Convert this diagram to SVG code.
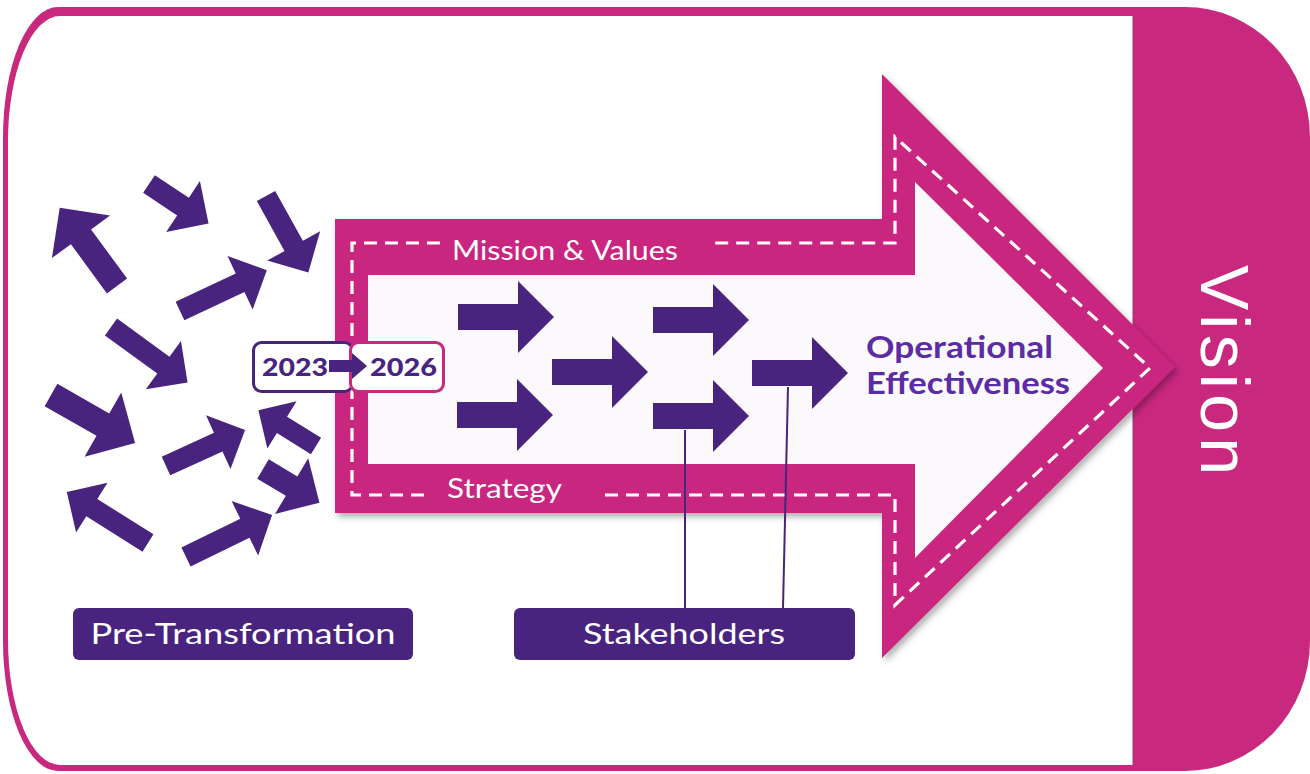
<svg xmlns="http://www.w3.org/2000/svg" width="1310" height="774" viewBox="0 0 1310 774">
  <defs>
    <style>
      .pink { fill: #c9287f; }
      .purple { fill: #48247f; }
      .dash { fill: none; stroke: #ffffff; stroke-width: 3.2; stroke-dasharray: 13 8; }
      .band-label { font-family: "Lato", "Open Sans", sans-serif; font-size: 26px; fill: #ffffff; }
      .box-label { font-family: "Lato", "Open Sans", sans-serif; font-size: 28px; fill: #ffffff; text-anchor: middle; }
      .year { font-family: "Lato", "Liberation Sans", sans-serif; font-size: 25px; font-weight: 900; fill: #48247f; }
      .goal { font-family: "Lato", "Open Sans", sans-serif; font-size: 30px; font-weight: 700; fill: #5b2ca3; }
      .link { stroke: #48247f; stroke-width: 2; fill: none; }
    </style>
    <filter id="shadow" x="-10%" y="-10%" width="125%" height="125%">
      <feDropShadow dx="3" dy="4" stdDeviation="3" flood-color="#000000" flood-opacity="0.3"/>
    </filter>
    <path id="step" d="M0,-13 H60 V-36 L96,0 L60,36 V13 H0 Z"/>
  </defs>

  <!-- outer frame with the Vision band on the right -->
  <g id="frame">
    <path class="pink" d="M58,7 H1185 A125,130 0 0 1 1310,137 V641 A125,130 0 0 1 1185,771 H58 A55,130 0 0 1 3,641 V137 A55,130 0 0 1 58,7 Z"/>
    <path fill="#ffffff" d="M60,16 H1133 V765 H60 A52,125 0 0 1 8,640 V141 A52,125 0 0 1 60,16 Z"/>
    <line x1="1132.5" y1="16" x2="1132.5" y2="765" stroke="#8a6b7c" stroke-width="1" opacity="0.6"/>
  </g>

  <g id="vision">
    <text transform="translate(1201,370) rotate(90)" text-anchor="middle" font-family="Liberation Sans, Arial, sans-serif" font-size="68" fill="#ffffff" textLength="210" lengthAdjust="spacing">Vision</text>
  </g>

  <!-- big transformation arrow -->
  <g id="transformation-arrow">
    <path class="pink" filter="url(#shadow)" d="M335,219 H882 V74 L1175,367 L882,658 V513 H335 Z"/>
    <path fill="#fcf9fd" d="M368,275 H915 V182 L1103,368 L915,558 V464 H368 Z"/>
    <path class="dash" d="M440,243 H352 V495 H425"/>
    <path class="dash" d="M605,495 H895 V605 L1150,368 L895,137 V243 H708"/>
    <text class="band-label" x="452" y="260" textLength="226" lengthAdjust="spacingAndGlyphs">Mission &amp; Values</text>
    <text class="band-label" x="447" y="498" textLength="115" lengthAdjust="spacingAndGlyphs">Strategy</text>
  </g>

  <g id="operational-effectiveness">
    <text class="goal" x="866" y="358" textLength="187" lengthAdjust="spacingAndGlyphs">Operational</text>
    <text class="goal" x="866" y="394" textLength="204" lengthAdjust="spacingAndGlyphs">Effectiveness</text>
  </g>

  <!-- scattered arrows before the transformation -->
  <g id="pre-arrows" class="purple">
    <path transform="translate(117,286) rotate(-126.2)" d="M0,-12.5 H61 V-36 L97,0 L61,36 V12.5 H0 Z"/>
    <path transform="translate(149,184) rotate(33.5) scale(0.85)" d="M0,-12.5 H48 V-36 L84,0 L48,36 V12.5 H0 Z"/>
    <path transform="translate(266,196) rotate(61) scale(0.84)" d="M0,-12.5 H68 V-36 L104,0 L68,36 V12.5 H0 Z"/>
    <path transform="translate(180,311) rotate(-25.2) scale(0.82)" d="M0,-12.5 H81 V-36 L117,0 L81,36 V12.5 H0 Z"/>
    <path transform="translate(111,327) rotate(36) scale(0.83)" d="M0,-12.5 H78 V-36 L114,0 L78,36 V12.5 H0 Z"/>
    <path transform="translate(51,395) rotate(29.7) scale(1.03)" d="M0,-12.5 H58 V-36 L94,0 L58,36 V12.5 H0 Z"/>
    <path transform="translate(166,466) rotate(-24.5) scale(0.82)" d="M0,-12.5 H70 V-36 L106,0 L70,36 V12.5 H0 Z"/>
    <path transform="translate(316,446) rotate(-148.2) scale(0.77)" d="M0,-12.5 H52 V-36 L88,0 L52,36 V12.5 H0 Z"/>
    <path transform="translate(263,469) rotate(30.8) scale(0.9)" d="M0,-12.5 H37 V-36 L73,0 L37,36 V12.5 H0 Z"/>
    <path transform="translate(148,543) rotate(-147.8) scale(0.82)" d="M0,-12.5 H81 V-36 L117,0 L81,36 V12.5 H0 Z"/>
    <path transform="translate(186,557) rotate(-26) scale(0.84)" d="M0,-12.5 H78 V-36 L114,0 L78,36 V12.5 H0 Z"/>
  </g>

  <!-- aligned arrows inside the transformation -->
  <g id="aligned-arrows" class="purple">
    <use href="#step" x="458" y="317"/>
    <use href="#step" x="457" y="415"/>
    <use href="#step" x="552" y="372"/>
    <use href="#step" x="653" y="320"/>
    <use href="#step" x="653" y="416"/>
    <use href="#step" x="752" y="373"/>
  </g>

  <!-- timeframe badge -->
  <g id="badge-2023">
    <rect x="253.5" y="342.5" width="99" height="49" rx="8" fill="#ffffff" stroke="#48247f" stroke-width="3"/>
    <text class="year" x="262" y="376" textLength="66" lengthAdjust="spacingAndGlyphs">2023</text>
  </g>
  <g id="badge-2026">
    <rect x="350.5" y="342.5" width="93" height="49" rx="8" fill="#ffffff" stroke="#c9287f" stroke-width="3"/>
    <text class="year" x="370" y="376" textLength="67" lengthAdjust="spacingAndGlyphs">2026</text>
  </g>
  <path class="purple" d="M329,360 H352 V353 L367,366 L352,379 V372 H329 Z"/>

  <!-- connectors -->
  <g id="connectors">
    <line class="link" x1="685" y1="430" x2="685" y2="608"/>
    <line class="link" x1="788" y1="387" x2="783" y2="608"/>
  </g>

  <g id="pre-transformation">
    <rect class="purple" x="73" y="608" width="340" height="52" rx="6"/>
    <text class="box-label" x="243" y="644" textLength="305" lengthAdjust="spacingAndGlyphs">Pre-Transformation</text>
  </g>
  <g id="stakeholders">
    <rect class="purple" x="514" y="608" width="341" height="52" rx="6"/>
    <text class="box-label" x="684" y="644" textLength="202" lengthAdjust="spacingAndGlyphs">Stakeholders</text>
  </g>
</svg>
